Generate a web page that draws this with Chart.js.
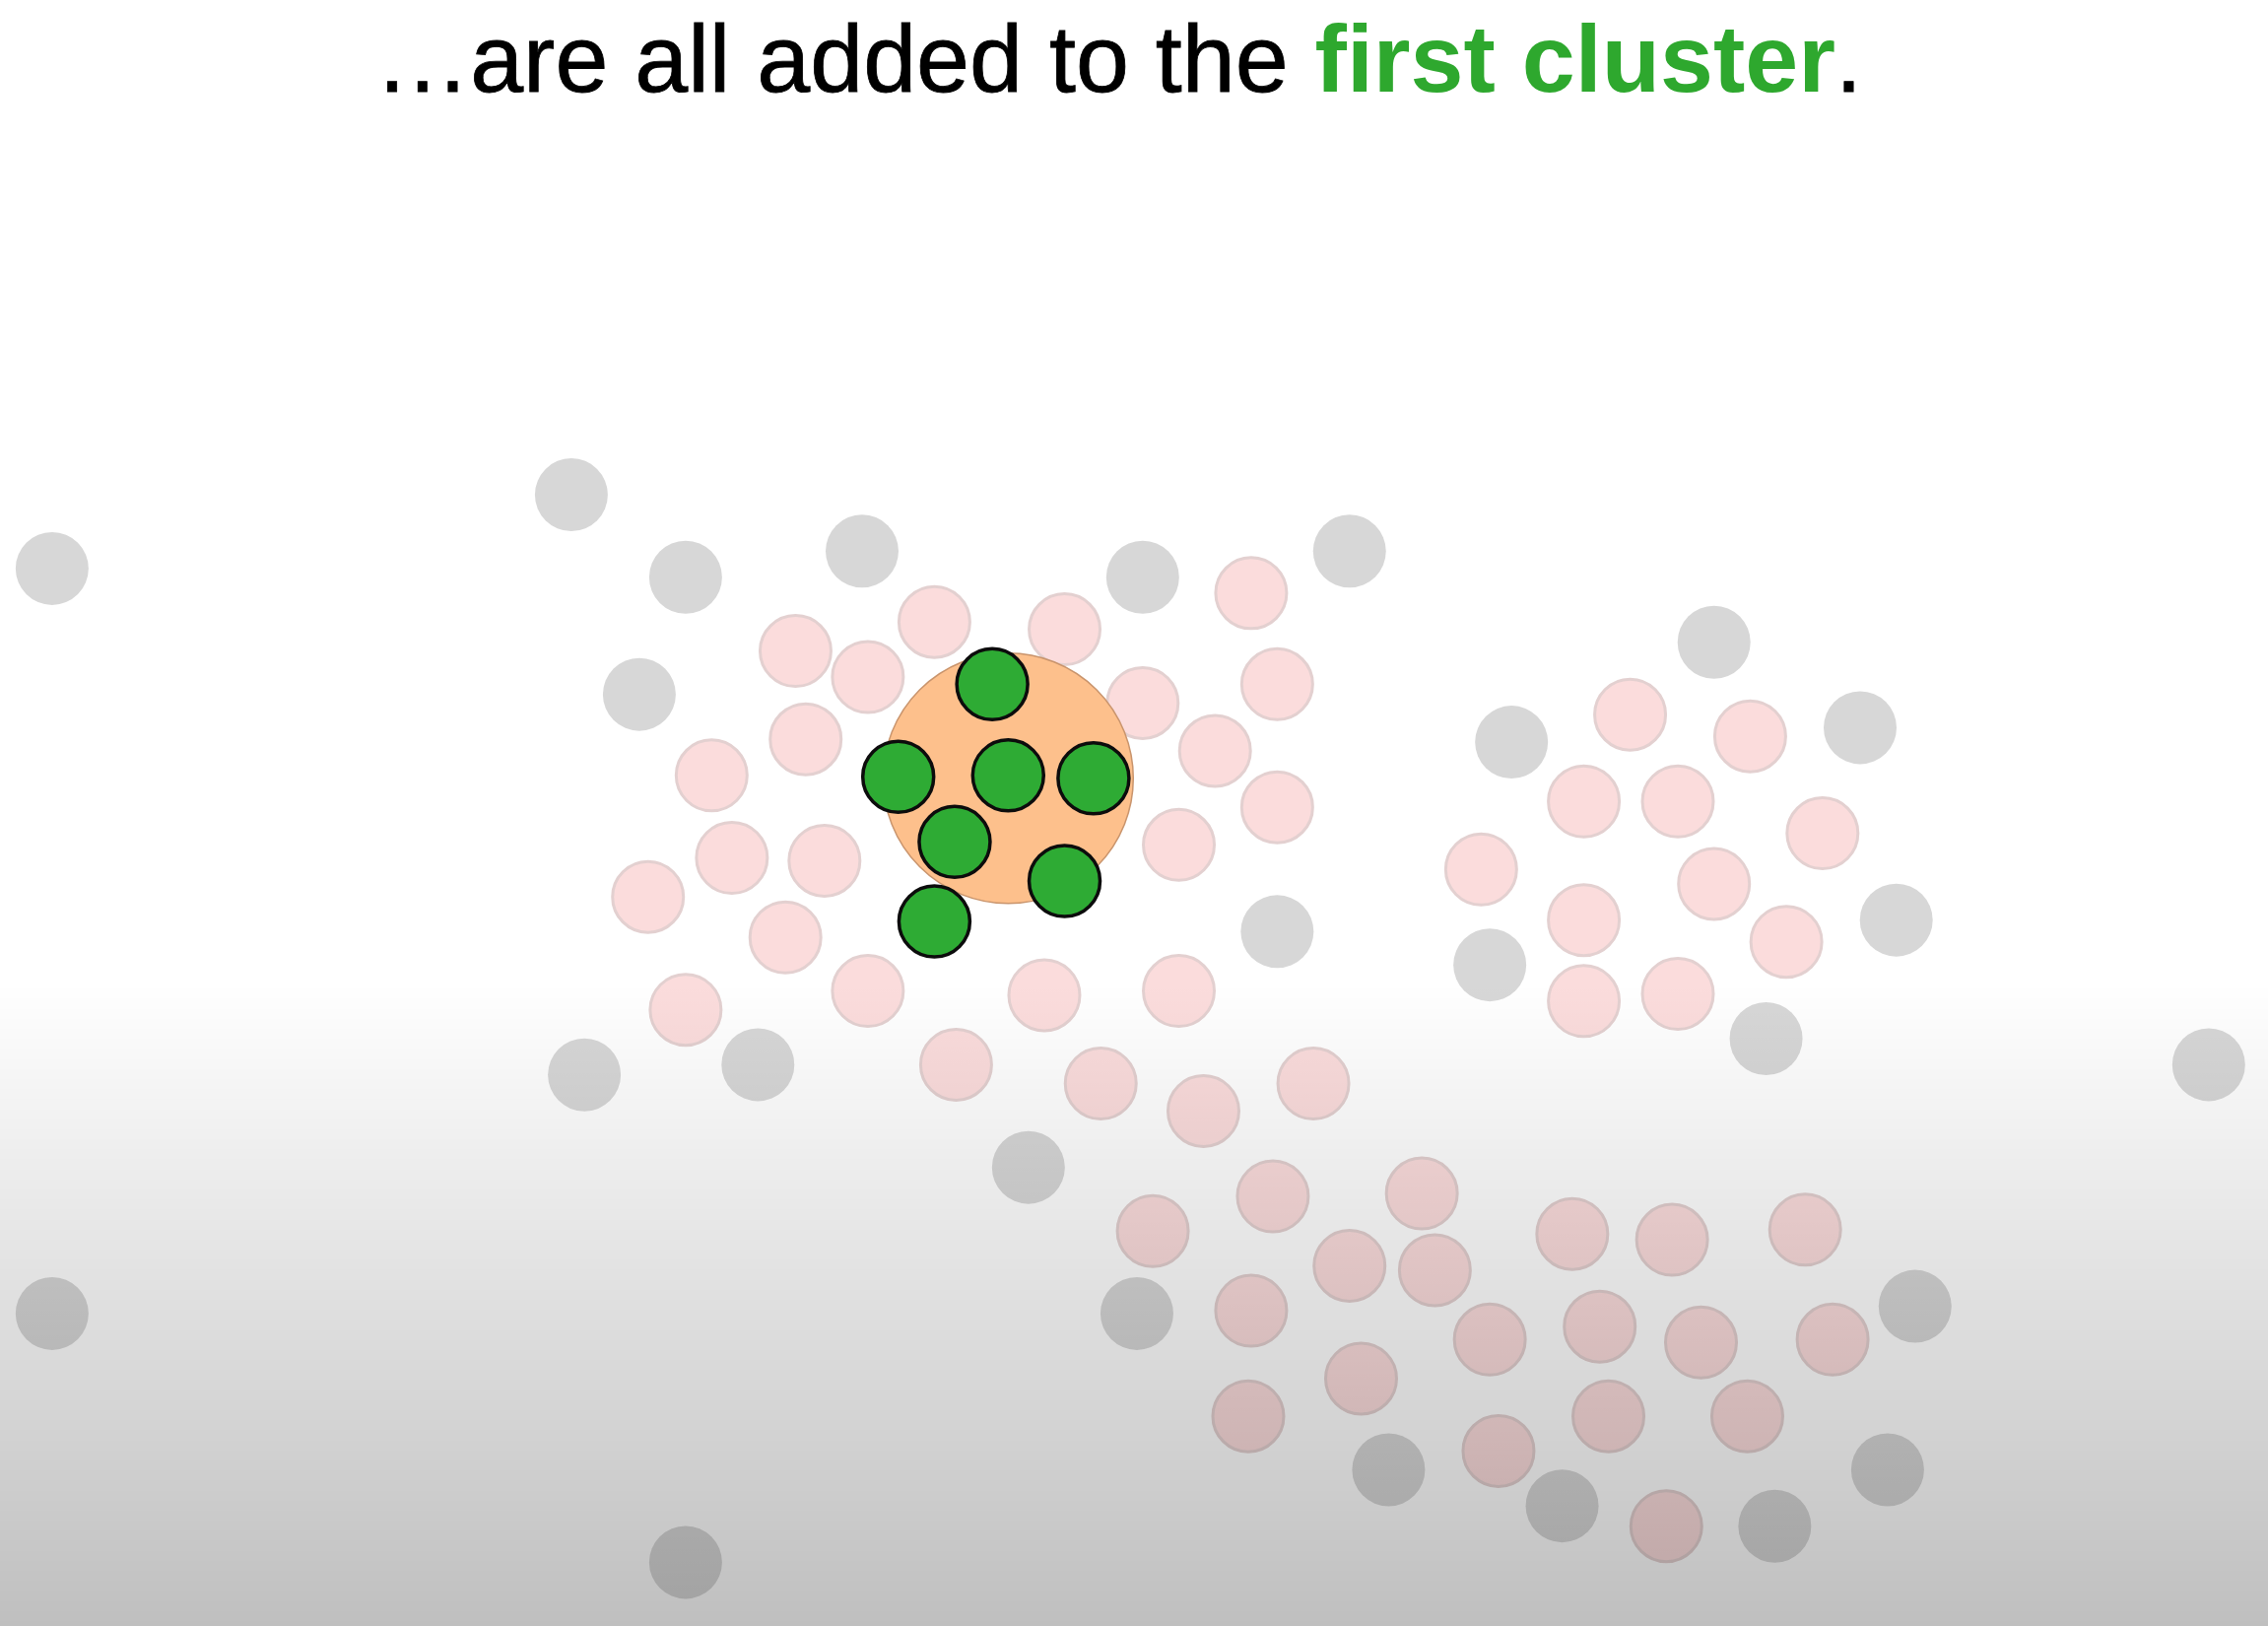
<!DOCTYPE html>
<html>
<head>
<meta charset="utf-8">
<script src="https://cdn.jsdelivr.net/npm/chart.js@4"></script>
<style>
  html, body { margin: 0; padding: 0; background: #fff; }
  #wrap { position: relative; width: 2302px; height: 1650px; overflow: hidden; }
  #caption {
    position: absolute; left: 0; right: 0; top: 11px; margin: 0;
    text-align: center; font-family: "Liberation Sans", Arial, sans-serif;
    font-size: 97px; line-height: 1; font-weight: normal; color: #000;
    padding-right: 32px; -webkit-text-stroke: 0.8px #000;
  }
  #caption b { color: #2ea82e; -webkit-text-stroke: 0; }
</style>
</head>
<body>
<div id="wrap">
  <canvas id="chart"></canvas>
  <h1 id="caption">…are all added to the <b>first cluster</b>.</h1>
</div>
<script>
// positions, in a 1568 x 1124 frame
const greyX = [36, 395, 474, 596, 442, 790, 933, 1185, 1045, 1286, 1311, 1030, 1221, 883, 404, 524, 1527, 711, 36, 786, 1324, 960, 1305, 1080, 1227, 474];
const greyY = [393, 342, 399, 381, 480, 399, 381, 444, 513, 503, 636, 667, 718, 644, 743, 736, 736, 807, 908, 908, 903, 1016, 1016, 1041, 1055, 1080];

const pinkX = [550, 646, 736, 865, 600, 790, 883, 557, 840, 492, 883, 506, 570, 815, 448, 543, 600, 722, 815, 474, 661, 761, 832, 908,
  1127, 1210, 1095, 1160, 1260, 1024, 1185, 1095, 1235, 1095, 1160,
  797, 880, 983, 933, 992, 865, 1087, 1156, 1248, 1030, 1106, 1176, 1267, 941, 863, 1036, 1112, 1208, 1152];
const pinkY = [450, 430, 435, 410, 468, 486, 473, 511, 519, 536, 558, 593, 595, 584, 620, 648, 685, 688, 685, 698, 736, 749, 768, 749,
  494, 509, 554, 554, 576, 601, 611, 636, 651, 692, 687,
  851, 827, 825, 875, 878, 906, 853, 857, 850, 926, 917, 928, 926, 953, 979, 1003, 979, 979, 1055];

const clusterX = [686, 621, 697, 756, 660, 736, 646];
const clusterY = [473, 537, 536, 538, 582, 609, 637];

const centreX = [697];
const centreY = [538];

const toPoints = (xs, ys) => xs.map((x, i) => ({ x: x, y: ys[i] }));

// darkening toward the bottom, drawn over the points
const fadePlugin = {
  id: 'fade',
  afterDatasetsDraw(chart) {
    const c = chart.ctx;
    const h = chart.height, w = chart.width;
    const top = h * 680 / 1124;
    const g = c.createLinearGradient(0, top, 0, h);
    g.addColorStop(0, 'rgba(0,0,0,0)');
    g.addColorStop(1, 'rgba(0,0,0,0.25)');
    c.save();
    c.fillStyle = g;
    c.fillRect(0, top, w, h - top);
    c.restore();
  }
};

const ctx = document.getElementById('chart').getContext('2d');

new Chart(ctx, {
  type: 'scatter',
  data: {
    datasets: [
      {
        label: 'first cluster',
        data: toPoints(clusterX, clusterY),
        backgroundColor: '#2eab34',
        borderColor: '#0c0c0c',
        borderWidth: 3.5,
        pointRadius: 36,
        order: 0
      },
      {
        label: 'neighbourhood',
        data: toPoints(centreX, centreY),
        backgroundColor: '#fdc08c',
        borderColor: '#c9946c',
        borderWidth: 1.5,
        pointRadius: 127,
        order: 1
      },
      {
        label: 'core points',
        data: toPoints(pinkX, pinkY),
        backgroundColor: '#fbdcdc',
        borderColor: '#e3d0d0',
        borderWidth: 3,
        pointRadius: 36,
        order: 2
      },
      {
        label: 'other points',
        data: toPoints(greyX, greyY),
        backgroundColor: '#d7d7d7',
        borderWidth: 0,
        pointRadius: 37,
        order: 3
      }
    ]
  },
  options: {
    responsive: true,
    maintainAspectRatio: false,
    animation: false,
    events: [],
    layout: { padding: 0, autoPadding: false },
    plugins: {
      legend: { display: false },
      tooltip: { enabled: false },
      title: { display: false }
    },
    scales: {
      x: { type: 'linear', min: 0, max: 1568, display: false },
      y: { type: 'linear', min: 0, max: 1124, reverse: true, display: false }
    }
  },
  plugins: [fadePlugin]
});
</script>
</body>
</html>
